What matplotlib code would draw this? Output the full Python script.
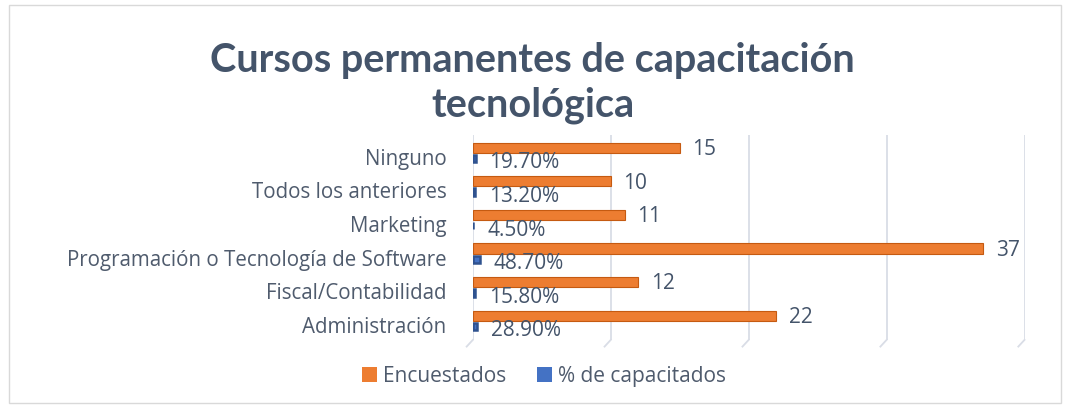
import numpy as np
import matplotlib.pyplot as plt
from matplotlib.patches import Rectangle, Patch

# data
categorias = ['Ninguno', 'Todos los anteriores', 'Marketing',
              'Programación o Tecnología de Software', 'Fiscal/Contabilidad',
              'Administración']
encuestados = [15, 10, 11, 37, 12, 22]
capacitados = [0.197, 0.132, 0.045, 0.487, 0.158, 0.289]
etiquetas_pct = ['19.70%', '13.20%', '4.50%', '48.70%', '15.80%', '28.90%']
series = ['Encuestados', '% de capacitados']

naranja = '#ED7D31'
azul = '#4472C4'
oscuro = '#44546A'
gris = '#4F5B6D'

plt.rcParams['font.family'] = ['Open Sans', 'DejaVu Sans']

fig = plt.figure(figsize=(10.65, 4.08), dpi=100)
ax = fig.add_axes([0.444, 0.167, 0.518, 0.502])

y = np.arange(len(categorias))
ax.barh(y - 0.27, encuestados, height=0.3, color=naranja,
        edgecolor='#C55A11', linewidth=0.8, zorder=3)
ax.barh(y + 0.05, capacitados, height=0.22, color=azul,
        edgecolor='#2F528F', linewidth=1.8, zorder=3)

for yi, v in zip(y, encuestados):
    ax.annotate(str(v), (v, yi - 0.22), xytext=(9, 0), textcoords='offset points',
                ha='left', va='center', fontsize=15, color=oscuro)
for yi, v, t in zip(y, capacitados, etiquetas_pct):
    ax.annotate(t, (v, yi + 0.18), xytext=(10, 0), textcoords='offset points',
                ha='left', va='center', fontsize=15, color=oscuro)

ax.set_xlim(0, 40)
ax.set_ylim(5.45, -0.65)
ax.set_xticks([0, 10, 20, 30, 40])
ax.set_xticklabels([])
ax.set_yticks(y)
ax.set_yticklabels(categorias, fontsize=14.8, color=gris)
ax.tick_params(length=0, pad=19)
ax.grid(axis='x', color='#D9DDE6', linewidth=1.3, zorder=0)
for s in ax.spines.values():
    s.set_visible(False)
for xv in [0, 10, 20, 30, 40]:
    ax.plot([xv, xv - 0.45], [5.45, 5.65], color='#D9DDE6', linewidth=1.3,
            clip_on=False, zorder=0)

fig.text(0.5, 0.8235, 'Cursos permanentes de capacitación', ha='center',
         va='baseline', fontsize=28.5, weight='bold', color=oscuro,
         family=['Lato', 'DejaVu Sans'])
fig.text(0.5, 0.715, 'tecnológica', ha='center', va='baseline',
         fontsize=28.5, weight='bold', color=oscuro, family=['Lato', 'DejaVu Sans'])

handles = [Patch(facecolor=naranja), Patch(facecolor=azul)]
fig.legend(handles, series, loc='center', bbox_to_anchor=(0.511, 0.078), ncol=2,
           frameon=False, fontsize=15, handlelength=0.7, handleheight=0.7,
           handletextpad=0.3, columnspacing=1.5, labelcolor=gris)

fig.add_artist(Rectangle((0.008, 0.012), 0.988, 0.975, transform=fig.transFigure,
                         fill=False, edgecolor='#D9D9D9', linewidth=1))

fig.savefig('out.png', dpi=100)
